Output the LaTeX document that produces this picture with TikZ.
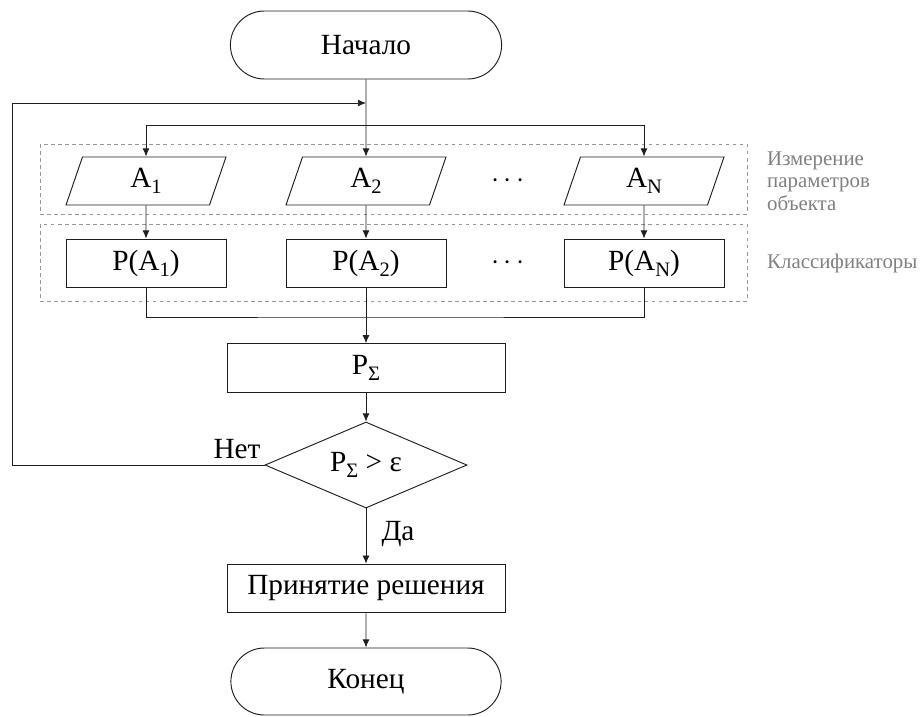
\documentclass[tikz,border=0pt]{standalone}
\usepackage{fontspec}
\setmainfont{Liberation Serif}
\newfontfamily\timesface{Liberation Serif}
\usetikzlibrary{arrows.meta,positioning,shapes.geometric,shapes.misc}
\definecolor{inkDark}{RGB}{30,30,30}
\definecolor{noteGray}{RGB}{128,128,128}
\definecolor{frameGray}{RGB}{150,150,150}
\newcommand{\Sb}[1]{\raisebox{-0.45ex}{\fontsize{17.5}{18}\selectfont #1}}
\tikzset{
  mainfont/.style={font=\timesface\fontsize{25}{29}\selectfont},
  termbox/.style={rounded rectangle,draw=inkDark,line width=0.8pt,minimum width=8.37cm,minimum height=2.04cm,mainfont},
  inbox/.style={trapezium,trapezium left angle=57,trapezium right angle=123,trapezium stretches body,draw=inkDark,line width=0.8pt,minimum width=4.8cm,minimum height=1.44cm,inner sep=0pt,mainfont},
  procbox/.style={rectangle,draw=inkDark,line width=0.8pt,minimum width=4.8cm,minimum height=1.44cm,inner sep=0pt,mainfont},
  widebox/.style={procbox,minimum width=8.34cm,minimum height=1.46cm},
  testbox/.style={diamond,aspect=2.35,draw=inkDark,line width=0.8pt,minimum width=6.06cm,minimum height=2.58cm,inner sep=0pt,mainfont},
  groupbox/.style={draw=frameGray,dashed,line width=0.6pt},
  note/.style={text=noteGray,font=\timesface\fontsize{17.8}{19.2}\selectfont,align=left,anchor=west,inner sep=0pt},
  answer/.style={mainfont,inner sep=0pt},
  flow/.style={draw=inkDark,line width=0.8pt,-{Latex[length=7pt,width=6pt]}},
  link/.style={draw=inkDark,line width=0.8pt}
}

\begin{document}
\begin{tikzpicture}[x=0.03cm,y=-0.03cm]
\useasboundingbox (0,0) rectangle (923,716);
% groups
\draw[groupbox] (40,144) rectangle (747,214);
\draw[groupbox] (40,224) rectangle (747,301);
\node[note] (measNote) at (767,181) {Измерение\\параметров\\объекта};
\node[note] (clsNote) at (767,263) {Классификаторы};
% nodes
\node[termbox] (start) at (366,45) {Начало};
\node[inbox] (a1) at (146,181) {A\Sb{1}};
\node[inbox] (a2) at (366,181) {A\Sb{2}};
\node[inbox] (aN) at (644,181) {A\Sb{N}};
\node[mainfont] (aDots) at (508,181) {$\cdots$};
\node[procbox] (p1) at (146,263) {P(A\Sb{1})};
\node[procbox] (p2) at (366,263) {P(A\Sb{2})};
\node[procbox] (pN) at (644,263) {P(A\Sb{N})};
\node[mainfont] (pDots) at (508,263) {$\cdots$};
\node[widebox] (psum) at (366,368) {P\Sb{Σ}};
\node[testbox] (test) at (366,465) {P\Sb{Σ} > ε};
\node[widebox] (decide) at (366,588.5) {Принятие решения};
\node[termbox,minimum width=8.34cm,minimum height=2.01cm] (finish) at (366,681.5) {Конец};
\node[answer] (no) at (237,449) {Нет};
\node[answer] (yes) at (398,534) {Да};
% connectors
\coordinate (join) at (366,103);
\coordinate (split) at (366,125);
\coordinate (merge) at (366,317);
\coordinate (back) at (12,465);
\draw[flow] (start) -- (a2);
\draw[flow] (split) -| (a1);
\draw[flow] (split) -| (aN);
\draw[flow] (a1) -- (p1);
\draw[flow] (a2) -- (p2);
\draw[flow] (aN) -- (pN);
\draw[link] (p1) |- (merge) -| (pN);
\draw[flow] (p2) -- (psum);
\draw[flow] (psum) -- (test);
\draw[flow] (test.west) -- (back) |- (join);
\draw[flow] (test) -- (decide);
\draw[flow] (decide) -- (finish);
\end{tikzpicture}
\end{document}
